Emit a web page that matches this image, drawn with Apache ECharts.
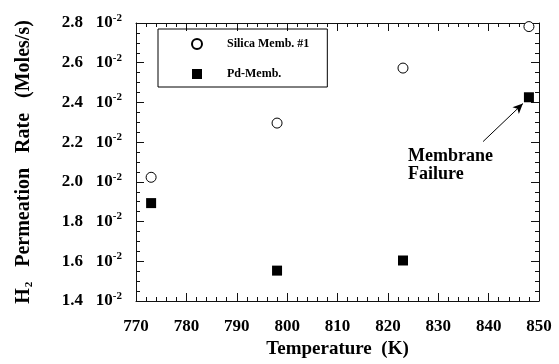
<!DOCTYPE html>
<html>
<head>
<meta charset="utf-8">
<script src="https://cdn.jsdelivr.net/npm/echarts@6/dist/echarts.min.js"></script>
<style>
html,body{margin:0;padding:0;background:#fff;}
#main{width:559px;height:364px;}
</style>
</head>
<body>
<div id="main"></div>
<script>
// Temperatures (K)
var temperatures = [773, 798, 823, 848];
// H2 permeation rate, in units of 10^-2 moles/s
var silicaRate = [2.023, 2.296, 2.573, 2.782];
var pdRate = [1.893, 1.553, 1.604, 2.426];
var seriesNames = ['Silica Memb. #1', 'Pd-Memb.'];
var xTicks = [770, 780, 790, 800, 810, 820, 830, 840, 850];
var yTicks = [1.4, 1.6, 1.8, 2.0, 2.2, 2.4, 2.6, 2.8];
// annotation anchor (data space) and arrow
var annotText = 'Membrane\nFailure';
var annotPos = [824, 2.085];
var arrowStart = [838.9, 2.203];
var arrowEnd = [846.8, 2.394];

var font = '"Liberation Serif","Times New Roman",serif';
var axisColor = '#111';

function pairs(xs, ys) { return xs.map(function (x, i) { return [x, ys[i]]; }); }
function axisLine() { return {show: true, lineStyle: {color: axisColor, width: 1}}; }
function axisTick() { return {show: true, inside: true, length: 8, lineStyle: {color: axisColor, width: 1}}; }
function minorTick(n) { return {show: true, splitNumber: n, length: 4, lineStyle: {color: axisColor, width: 1}}; }

var chart = echarts.init(document.getElementById('main'), null, {renderer: 'canvas'});

var option = {
  backgroundColor: '#fff',
  animation: false,
  grid: {left: 136, right: 20, top: 23, bottom: 55},
  legend: {
    data: seriesNames,
    orient: 'vertical',
    left: 158,
    top: 29,
    padding: [9, 18, 7, 33],
    itemGap: 18,
    itemWidth: 10,
    itemHeight: 10,
    borderColor: '#000',
    borderWidth: 1,
    textStyle: {fontFamily: font, fontWeight: 'bold', fontSize: 12, color: '#000', padding: [0, 0, 0, 20]}
  },
  xAxis: [{
    type: 'value', min: 770, max: 850, interval: 10, position: 'bottom',
    name: 'Temperature  (K)', nameLocation: 'middle', nameGap: 39,
    nameTextStyle: {fontFamily: font, fontWeight: 'bold', fontSize: 19, color: '#000'},
    axisLabel: {
      margin: 17, fontFamily: font, fontWeight: 'bold', fontSize: 17, color: '#000',
      formatter: function (v) { return String(Math.round(v)); }
    },
    axisLine: axisLine(), axisTick: axisTick(), minorTick: minorTick(5), splitLine: {show: false}
  }, {
    type: 'value', min: 770, max: 850, interval: 10, position: 'top',
    axisLabel: {show: false},
    axisLine: axisLine(), axisTick: axisTick(), minorTick: minorTick(5), splitLine: {show: false}
  }],
  yAxis: [{
    type: 'value', min: 1.4, max: 2.8, interval: 0.2, position: 'left',
    name: '{m|H}{s|2}{m|   Permeation   Rate   (Moles/s)}',
    nameLocation: 'middle', nameGap: 101, nameRotate: 90,
    nameTextStyle: {
      rich: {
        m: {fontFamily: font, fontWeight: 'bold', fontSize: 20, color: '#000'},
        s: {fontFamily: font, fontWeight: 'bold', fontSize: 11, color: '#000', padding: [12, 0, 0, 1]}
      }
    },
    axisLabel: {
      margin: 14, color: '#000',
      formatter: function (v) { return '{a|' + v.toFixed(1) + '}{b|   10}{c|-2}'; },
      rich: {
        a: {fontFamily: font, fontWeight: 'bold', fontSize: 17, color: '#000'},
        b: {fontFamily: font, fontWeight: 'bold', fontSize: 17, color: '#000'},
        c: {fontFamily: font, fontWeight: 'bold', fontSize: 11, color: '#000', padding: [0, 0, 10, 0]}
      }
    },
    axisLine: axisLine(), axisTick: axisTick(), minorTick: minorTick(4), splitLine: {show: false}
  }, {
    type: 'value', min: 1.4, max: 2.8, interval: 0.2, position: 'right',
    axisLabel: {show: false},
    axisLine: axisLine(), axisTick: axisTick(), minorTick: minorTick(4), splitLine: {show: false}
  }],
  series: [{
    name: seriesNames[0], type: 'scatter', xAxisIndex: 0, yAxisIndex: 0,
    symbol: 'circle', symbolSize: 10,
    itemStyle: {color: '#fff', borderColor: '#000', borderWidth: 1, opacity: 1},
    data: pairs(temperatures, silicaRate),
    z: 5
  }, {
    name: seriesNames[1], type: 'scatter', xAxisIndex: 0, yAxisIndex: 0,
    symbol: 'rect', symbolSize: 10,
    itemStyle: {color: '#000', opacity: 1},
    data: pairs(temperatures, pdRate),
    z: 5,
    markLine: {
      silent: true,
      symbol: ['none', 'arrow'],
      symbolSize: [7, 10],
      lineStyle: {color: '#000', width: 1, type: 'solid', opacity: 1},
      label: {show: false},
      data: [[{coord: arrowStart}, {coord: arrowEnd}]]
    },
    markPoint: {
      silent: true,
      symbol: 'circle', symbolSize: 1,
      itemStyle: {color: 'rgba(0,0,0,0)'},
      label: {
        show: true, position: 'inside', align: 'left', verticalAlign: 'middle',
        formatter: annotText, lineHeight: 18,
        fontFamily: font, fontWeight: 'bold', fontSize: 18, color: '#000'
      },
      data: [{coord: annotPos}]
    }
  }]
};
chart.setOption(option);
</script>
</body>
</html>
